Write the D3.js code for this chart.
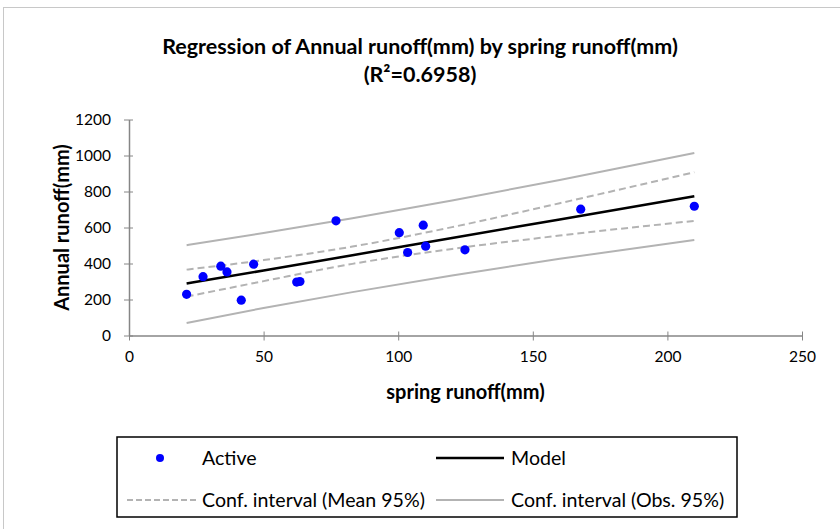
<!DOCTYPE html>
<html>
<head>
<meta charset="utf-8">
<script src="https://cdn.jsdelivr.net/npm/d3@7"></script>
<style>
  html, body { margin: 0; padding: 0; background: #fff; }
  svg { display: block; }
  text { font-family: Lato, "Open Sans", sans-serif; fill: #000; }
</style>
</head>
<body>
<script>
// Observations: spring runoff (mm) vs annual runoff (mm)
const springRunoff = [21.4, 27.5, 34.1, 36.4, 41.7, 46.3, 62.3, 63.5, 76.9, 100.4, 103.5, 109.3, 110.2, 124.8, 167.8, 210.0];
const annualRunoff = [229, 327, 385, 353, 196, 396, 297, 300, 637, 571, 461, 613, 496, 476, 702, 718];

// Fitted model and 95% bands, sampled along spring runoff
const bandX     = [21.4, 50, 83, 120, 160, 210];
const modelY    = [289, 361, 446, 542, 645, 774];
const meanUpper = [366, 419, 494, 602, 735, 907];
const meanLower = [216, 302, 398, 481, 555, 637];
const obsUpper  = [502, 569, 651, 750, 864, 1014];
const obsLower  = [70, 153, 241, 333, 426, 531];

const xTicks = [0, 50, 100, 150, 200, 250];
const yTicks = [0, 200, 400, 600, 800, 1000, 1200];

const titleLines = ["Regression of Annual runoff(mm) by spring runoff(mm)", "(R²=0.6958)"];
const xTitle = "spring runoff(mm)";
const yTitle = "Annual runoff(mm)";
const legendLabels = ["Active", "Model", "Conf. interval (Mean 95%)", "Conf. interval (Obs. 95%)"];

const W = 840, H = 529;
const svg = d3.select("body").append("svg").attr("width", W).attr("height", H);

// chart frame
svg.append("rect")
  .attr("x", 3.5).attr("y", 7.5).attr("width", W + 10).attr("height", H + 10)
  .attr("fill", "none").attr("stroke", "#c8c8c8").attr("stroke-width", 1);

const plot = { left: 129, right: 802, top: 119.5, bottom: 335.5 };
const x = d3.scaleLinear().domain([0, 250]).range([plot.left, plot.right]);
const y = d3.scaleLinear().domain([0, 1200]).range([plot.bottom, plot.top]);

const axisColor = "#868686";
const fmt = d3.format("d");

// X axis with crossing tick marks
const gx = svg.append("g").attr("transform", `translate(0,${plot.bottom})`)
  .call(d3.axisBottom(x).tickValues(xTicks).tickFormat(fmt).tickSizeInner(5).tickSizeOuter(0).tickPadding(10));
gx.selectAll(".tick line").attr("y1", -4);
// Y axis
const gy = svg.append("g").attr("transform", `translate(${plot.left},0)`)
  .call(d3.axisLeft(y).tickValues(yTicks).tickFormat(fmt).tickSizeInner(5).tickSizeOuter(0).tickPadding(13));
gy.selectAll(".tick line").attr("x1", 4);

[gx, gy].forEach(g => {
  g.select(".domain").attr("stroke", axisColor).attr("stroke-width", 1.5);
  g.selectAll(".tick line").attr("stroke", axisColor).attr("stroke-width", 1);
  g.selectAll(".tick text").attr("font-family", "Lato, sans-serif").attr("font-size", 15.5).attr("fill", "#000");
});

// Bands and model
const line = d3.line().x(d => x(d[0])).y(d => y(d[1])).curve(d3.curveMonotoneX);
const pairs = arr => bandX.map((v, i) => [v, arr[i]]);
const bandGray = "#b3b3b3";

[obsUpper, obsLower].forEach(arr => {
  svg.append("path").datum(pairs(arr)).attr("d", line)
    .attr("fill", "none").attr("stroke", bandGray).attr("stroke-width", 2);
});
[meanUpper, meanLower].forEach(arr => {
  svg.append("path").datum(pairs(arr)).attr("d", line)
    .attr("fill", "none").attr("stroke", bandGray).attr("stroke-width", 2)
    .attr("stroke-dasharray", "7,4");
});
svg.append("path").datum(pairs(modelY)).attr("d", line)
  .attr("fill", "none").attr("stroke", "#000").attr("stroke-width", 2.5);

// Observations
svg.append("g").selectAll("circle")
  .data(springRunoff.map((v, i) => [v, annualRunoff[i]]))
  .join("circle")
  .attr("cx", d => x(d[0])).attr("cy", d => y(d[1])).attr("r", 4.6)
  .attr("fill", "#0000ff");

// Titles
svg.append("text").attr("x", 420).attr("y", 54).attr("text-anchor", "middle")
  .attr("font-weight", "bold").attr("font-size", 21.5).text(titleLines[0]);
svg.append("text").attr("x", 420).attr("y", 82).attr("text-anchor", "middle")
  .attr("font-weight", "bold").attr("font-size", 21.5).text(titleLines[1]);

svg.append("text").attr("x", (plot.left + plot.right) / 2).attr("y", 399).attr("text-anchor", "middle")
  .attr("font-weight", "bold").attr("font-size", 20).text(xTitle);
svg.append("text").attr("transform", `translate(69,${(plot.top + plot.bottom) / 2}) rotate(-90)`)
  .attr("text-anchor", "middle").attr("font-weight", "bold").attr("font-size", 20).text(yTitle);

// Legend
const lg = svg.append("g");
lg.append("rect").attr("x", 117).attr("y", 437).attr("width", 620).attr("height", 80)
  .attr("fill", "#fff").attr("stroke", "#000").attr("stroke-width", 1.5);
const row1 = 458, row2 = 500, fs = 19.6;
lg.append("circle").attr("cx", 160).attr("cy", row1).attr("r", 4).attr("fill", "#0000ff");
lg.append("text").attr("x", 202).attr("y", row1).attr("dy", "0.35em").attr("font-size", fs).text(legendLabels[0]);
lg.append("line").attr("x1", 436).attr("x2", 504).attr("y1", row1).attr("y2", row1)
  .attr("stroke", "#000").attr("stroke-width", 2.5);
lg.append("text").attr("x", 511).attr("y", row1).attr("dy", "0.35em").attr("font-size", fs).text(legendLabels[1]);
lg.append("line").attr("x1", 127).attr("x2", 196).attr("y1", row2).attr("y2", row2)
  .attr("stroke", bandGray).attr("stroke-width", 2).attr("stroke-dasharray", "6,3");
lg.append("text").attr("x", 202).attr("y", row2).attr("dy", "0.35em").attr("font-size", fs).text(legendLabels[2]);
lg.append("line").attr("x1", 436).attr("x2", 504).attr("y1", row2).attr("y2", row2)
  .attr("stroke", bandGray).attr("stroke-width", 2);
lg.append("text").attr("x", 511).attr("y", row2).attr("dy", "0.35em").attr("font-size", fs).text(legendLabels[3]);
</script>
</body>
</html>
